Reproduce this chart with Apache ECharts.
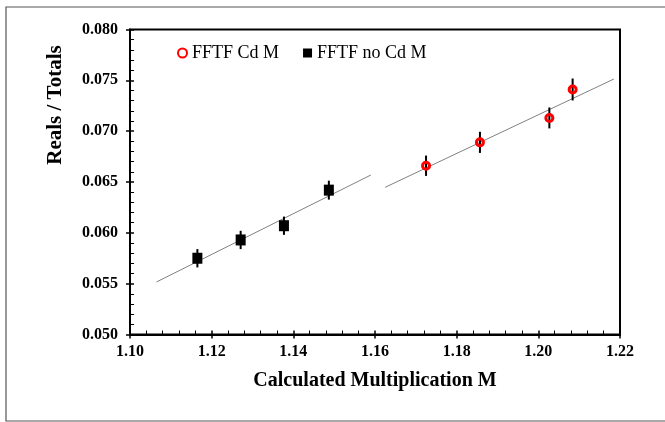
<!DOCTYPE html>
<html>
<head>
<meta charset="utf-8">
<script src="https://cdn.jsdelivr.net/npm/echarts@6/dist/echarts.min.js"></script>
<style>
  html, body { margin: 0; padding: 0; background: #fff; }
  #chart { width: 665px; height: 422px; }
</style>
</head>
<body>
<div id="chart"></div>
<script>
// values
const cdX = [1.1725, 1.1857, 1.2027, 1.2084];
const cdY = [0.0666, 0.0689, 0.0713, 0.0741];
const cdErr = [0.0010, 0.00104, 0.00103, 0.00108];

const noCdX = [1.1165, 1.1271, 1.1377, 1.1487];
const noCdY = [0.0575, 0.0593, 0.0607, 0.0642];
const noCdErr = [0.0009, 0.0009, 0.0009, 0.00093];

// fitted lines, end points as drawn
const cdFitX = [1.1625, 1.2185];
const cdFitY = [0.06448, 0.07513];
const noCdFitX = [1.1065, 1.1590];
const noCdFitY = [0.05517, 0.06569];

const seriesNames = ['FFTF Cd M', 'FFTF no Cd M'];

const font = 'Liberation Serif';

const zip = (xs, ys, es) => xs.map((x, i) => es ? [x, ys[i], es[i]] : [x, ys[i]]);

const chart = echarts.init(document.getElementById('chart'));

const errorBars = (data) => ({
    type: 'custom',
    silent: true,
    data: data,
    renderItem: (params, api) => {
        const x = api.value(0), y = api.value(1), e = api.value(2);
        const p1 = api.coord([x, y - e]);
        const p2 = api.coord([x, y + e]);
        return {
            type: 'line',
            shape: { x1: p1[0], y1: p1[1], x2: p2[0], y2: p2[1] },
            style: { stroke: '#000', lineWidth: 2 }
        };
    },
    z: 2
});

const fitLine = (xs, ys) => ({
    type: 'line',
    data: zip(xs, ys),
    symbol: 'none',
    silent: true,
    lineStyle: { color: '#808080', width: 1 },
    z: 1
});

const option = {
    animation: false,
    graphic: [{
        type: 'rect',
        shape: { x: 6, y: 7, width: 680, height: 414 },
        style: { fill: 'none', stroke: '#555', lineWidth: 1.2 },
        silent: true
    }],
    grid: {
        left: 130, right: 45, top: 29.5, bottom: 87.5,
        show: true, borderColor: '#000', borderWidth: 2
    },
    legend: {
        data: seriesNames,
        left: 172, top: 39,
        itemWidth: 9, itemHeight: 9, itemGap: 24,
        textStyle: { fontFamily: font, fontSize: 18, color: '#000' }
    },
    xAxis: [{
        type: 'value',
        min: 1.10, max: 1.22, interval: 0.02,
        name: 'Calculated Multiplication M',
        nameLocation: 'middle', nameGap: 36,
        nameTextStyle: { fontFamily: font, fontSize: 20, fontWeight: 'bold', color: '#000' },
        axisLine: { lineStyle: { color: '#000', width: 2 } },
        axisTick: { show: true, inside: false, length: 4, lineStyle: { color: '#000', width: 1.5 } },
        axisLabel: { fontFamily: font, fontSize: 16, fontWeight: 'bold', color: '#000', margin: 9,
                     formatter: v => v.toFixed(2) },
        splitLine: { show: false }
    }, {
        type: 'value',
        min: 1.10, max: 1.22, interval: 0.02,
        position: 'bottom',
        axisLine: { show: false },
        axisTick: { show: true, inside: true, length: 4, lineStyle: { color: '#000', width: 1.5 } },
        minorTick: { show: true, splitNumber: 5, length: 4, lineStyle: { color: '#000', width: 1 } },
        axisLabel: { show: false },
        splitLine: { show: false }
    }],
    yAxis: [{
        type: 'value',
        min: 0.050, max: 0.080, interval: 0.005,
        name: 'Reals / Totals',
        nameLocation: 'middle', nameGap: 64, nameRotate: 90,
        nameTextStyle: { fontFamily: font, fontSize: 21, fontWeight: 'bold', color: '#000',
                         padding: [0, 0, 0, 154] },
        axisLine: { show: true, lineStyle: { color: '#000', width: 2 } },
        axisTick: { show: true, inside: false, length: 4, lineStyle: { color: '#000', width: 1.5 } },
        axisLabel: { fontFamily: font, fontSize: 16, fontWeight: 'bold', color: '#000', margin: 12,
                     formatter: v => v.toFixed(3) },
        splitLine: { show: false }
    }, {
        type: 'value',
        min: 0.050, max: 0.080, interval: 0.005,
        position: 'left',
        axisLine: { show: false },
        axisTick: { show: true, inside: true, length: 4, lineStyle: { color: '#000', width: 1.5 } },
        minorTick: { show: true, splitNumber: 5, length: 4, lineStyle: { color: '#000', width: 1 } },
        axisLabel: { show: false },
        splitLine: { show: false }
    }],
    series: [
        fitLine(noCdFitX, noCdFitY),
        fitLine(cdFitX, cdFitY),
        errorBars(zip(noCdX, noCdY, noCdErr)),
        errorBars(zip(cdX, cdY, cdErr)),
        {
            name: seriesNames[0],
            type: 'scatter',
            data: zip(cdX, cdY),
            symbol: 'circle',
            symbolSize: 7,
            itemStyle: { color: 'rgba(255,255,255,0)', borderColor: '#ff0000', borderWidth: 3, opacity: 1 },
            z: 3
        },
        {
            name: seriesNames[1],
            type: 'scatter',
            data: zip(noCdX, noCdY),
            symbol: 'rect',
            symbolSize: [10, 11],
            itemStyle: { color: '#000', opacity: 1 },
            z: 3
        }
    ]
};

chart.setOption(option);
</script>
</body>
</html>
